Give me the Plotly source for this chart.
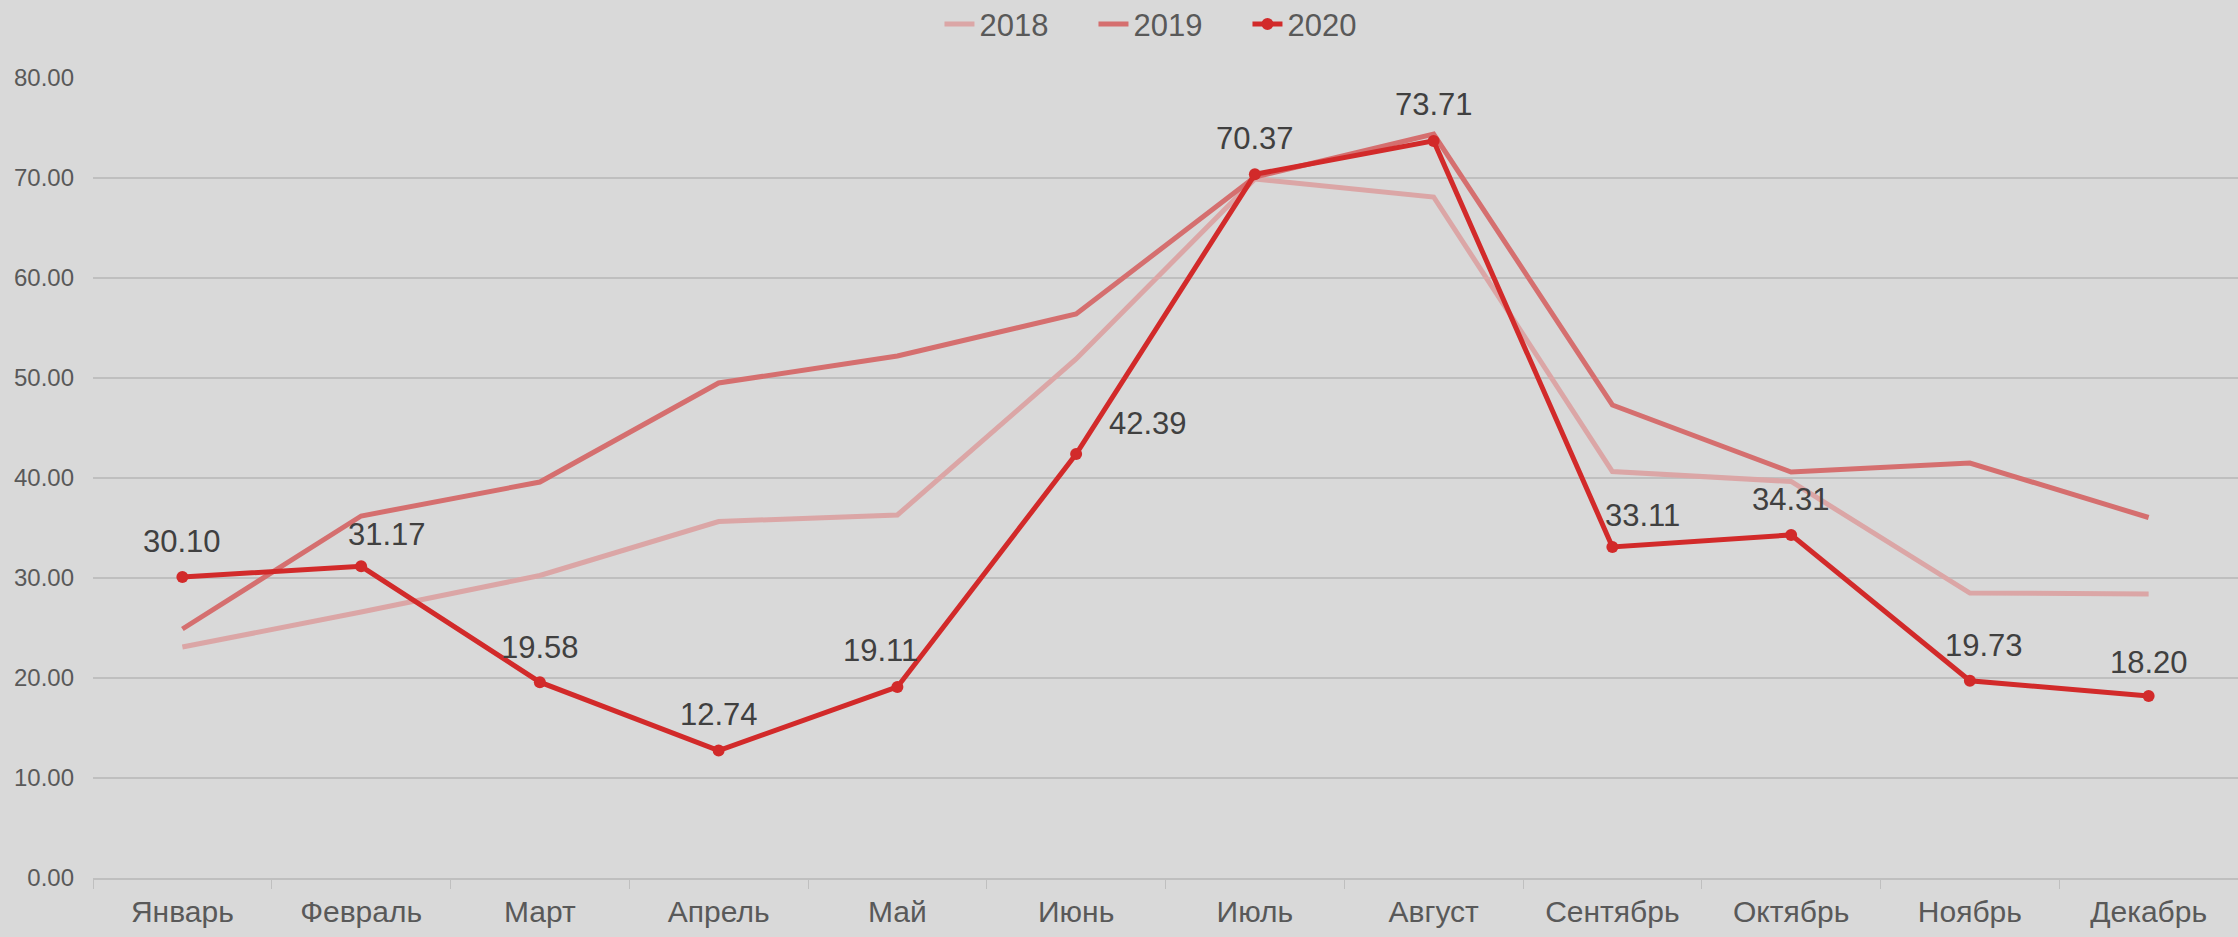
import plotly.graph_objects as go

months = ["Январь", "Февраль", "Март", "Апрель", "Май", "Июнь",
          "Июль", "Август", "Сентябрь", "Октябрь", "Ноябрь", "Декабрь"]
y2018 = [23.1, 26.6, 30.25, 35.65, 36.3, 51.9, 69.9, 68.1, 40.65, 39.65, 28.5, 28.4]
y2019 = [24.9, 36.2, 39.6, 49.5, 52.2, 56.4, 70.1, 74.4, 47.3, 40.6, 41.5, 36.05]
y2020 = [30.10, 31.17, 19.58, 12.74, 19.11, 42.39, 70.37, 73.71, 33.11, 34.31, 19.73, 18.20]
y_ticks = [0, 10, 20, 30, 40, 50, 60, 70, 80]

# label offsets (pixels) for the 2020 data labels
label_dx = [0, 26, 0, 0, -17, 72, 0, 0, 30, 0, 14, 0]
label_dy = [36, 32, 35, 36, 36, 31, 36, 36, 31, 35, 35, 34]

C2018 = "#DBA6A6"
C2019 = "#D56F6F"
C2020 = "#D22A2A"
BG = "#D9D9D9"
GRID = "#BFBFBF"
FONT = "Liberation Sans, Arial, sans-serif"

fig = go.Figure()
fig.add_trace(go.Scatter(x=months, y=y2018, name="2018", mode="lines",
                         line=dict(color=C2018, width=5)))
fig.add_trace(go.Scatter(x=months, y=y2019, name="2019", mode="lines",
                         line=dict(color=C2019, width=5)))
fig.add_trace(go.Scatter(x=months, y=y2020, name="2020", mode="lines+markers",
                         line=dict(color=C2020, width=5),
                         marker=dict(color=C2020, size=12)))

for m, v, dx, dy in zip(months, y2020, label_dx, label_dy):
    fig.add_annotation(x=m, y=v, text=f"{v:.2f}", showarrow=False,
                       xanchor="center", yanchor="middle",
                       xshift=dx, yshift=dy,
                       font=dict(family=FONT, size=31, color="#404040"))

fig.update_layout(
    width=2238, height=937,
    paper_bgcolor=BG, plot_bgcolor=BG,
    margin=dict(l=93, r=0, t=78, b=59),
    font=dict(family=FONT, color="#595959"),
    showlegend=True,
    legend=dict(orientation="h", xref="container", yref="container",
                x=0.523, y=0.974, xanchor="center", yanchor="middle",
                font=dict(family=FONT, size=31, color="#595959"),
                bgcolor="rgba(0,0,0,0)", itemwidth=30,
                entrywidth=109, entrywidthmode="pixels"),
    xaxis=dict(type="category", range=[-0.5, 11.5],
               showgrid=False, showline=True, linecolor=GRID, linewidth=2,
               ticks="outside", tickson="boundaries", ticklen=9,
               tickcolor=GRID, tickwidth=1,
               tickfont=dict(family=FONT, size=30, color="#595959"),
               ticklabelstandoff=6, fixedrange=True),
    yaxis=dict(range=[0, 80], tickvals=y_ticks, tickformat=".2f",
               showgrid=True, gridcolor=GRID, gridwidth=1.5,
               zeroline=False, showline=False,
               tickfont=dict(family=FONT, size=24, color="#595959"),
               ticklabelstandoff=18, fixedrange=True),
)

fig.write_html("out.html",
               config={"displayModeBar": False},
               post_script="document.body.style.margin='0';document.body.style.overflow='hidden';document.body.style.background='#D9D9D9';")
